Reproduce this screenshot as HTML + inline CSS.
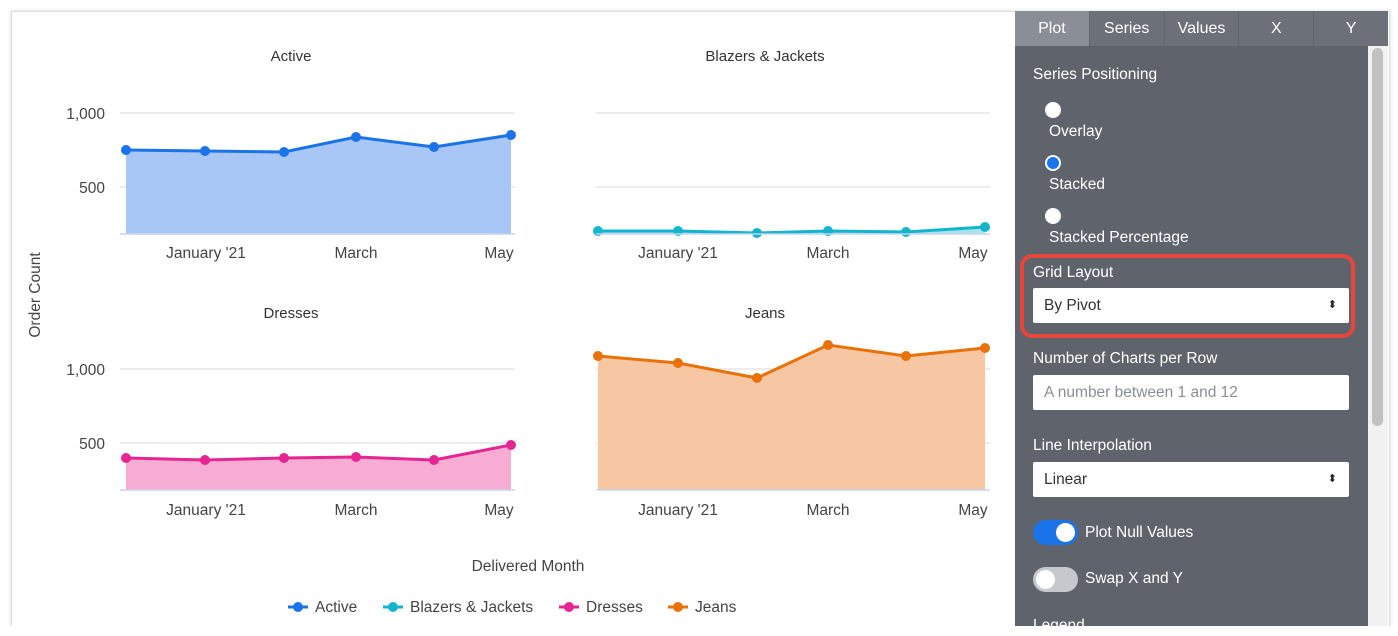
<!DOCTYPE html>
<html><head><style>
body{margin:0;width:1398px;height:636px;background:#fff;font-family:"Liberation Sans",sans-serif;overflow:hidden;position:relative}
.card{position:absolute;left:11px;top:11px;width:1377px;height:614px;border:1px solid #ddd;box-shadow:0 0 4px rgba(0,0,0,.15);background:#fff}
.panel{position:absolute;left:1015px;top:11px;width:353px;height:615px;background:#5f636b;color:#fff}
.tabs{position:absolute;left:1015px;top:11px;width:373px;display:flex;height:35px;background:#6c7079;color:#fff}
.tabs div{flex:1;text-align:center;line-height:35px;font-size:16px;border-right:1px solid #62666e}
.tabs div.on{background:#8a8e96}
.lbl{position:absolute;left:18px;font-size:15.5px}
.radio{position:absolute;left:30px;width:16px;height:16px;border-radius:50%;background:#fff}
.box{position:absolute;left:18px;width:316px;height:35px;background:#fff;border-radius:2px;color:#333;font-size:15.5px;line-height:35px;text-indent:11px}
.arr{position:absolute;right:12px;top:0;font-size:11px;color:#222}
.tog{position:absolute;left:18px;width:45px;height:25px;border-radius:13px}
.tog i{position:absolute;top:3px;width:19px;height:19px;border-radius:50%;background:#fff}
.sb{position:absolute;left:1368px;top:46px;width:20px;height:580px;background:#f1f1f1}
.sb i{position:absolute;left:4px;top:2px;width:11px;height:378px;border-radius:6px;background:#c1c1c1}
</style></head><body>
<div class="card"></div>
<svg style="position:absolute;left:0;top:0" width="1010" height="636" font-family="Liberation Sans,sans-serif">
<g stroke="#e6e6e6" stroke-width="1.5">
<line x1="120" y1="113" x2="515" y2="113"/><line x1="120" y1="187" x2="515" y2="187"/>
<line x1="596" y1="113" x2="990" y2="113"/><line x1="596" y1="187" x2="990" y2="187"/>
<line x1="120" y1="369" x2="515" y2="369"/><line x1="120" y1="443" x2="515" y2="443"/>
<line x1="596" y1="369" x2="990" y2="369"/><line x1="596" y1="443" x2="990" y2="443"/>
</g>
<polygon fill="#a8c7f6" points="126,234 126,150 205,151 284,152 356,137 434,147 511,135 511,234"/>
<polyline fill="none" stroke="#1a73e8" stroke-width="3" points="126,150 205,151 284,152 356,137 434,147 511,135"/>
<g fill="#1a73e8"><circle cx="126" cy="150" r="5"/><circle cx="205" cy="151" r="5"/><circle cx="284" cy="152" r="5"/><circle cx="356" cy="137" r="5"/><circle cx="434" cy="147" r="5"/><circle cx="511" cy="135" r="5"/></g>
<polygon fill="#a6e3ea" points="598,234 598,231 678,231 757,233 828,231 906,232 985,227 985,234"/>
<polyline fill="none" stroke="#12b5cb" stroke-width="3" points="598,231 678,231 757,233 828,231 906,232 985,227"/>
<g fill="#12b5cb"><circle cx="598" cy="231" r="5"/><circle cx="678" cy="231" r="5"/><circle cx="757" cy="233" r="5"/><circle cx="828" cy="231" r="5"/><circle cx="906" cy="232" r="5"/><circle cx="985" cy="227" r="5"/></g>
<polygon fill="#f7acd4" points="126,490 126,458 205,460 284,458 356,457 434,460 511,445 511,490"/>
<polyline fill="none" stroke="#e52592" stroke-width="3" points="126,458 205,460 284,458 356,457 434,460 511,445"/>
<g fill="#e52592"><circle cx="126" cy="458" r="5"/><circle cx="205" cy="460" r="5"/><circle cx="284" cy="458" r="5"/><circle cx="356" cy="457" r="5"/><circle cx="434" cy="460" r="5"/><circle cx="511" cy="445" r="5"/></g>
<polygon fill="#f7c6a2" points="598,490 598,356 678,363 757,378 828,345 906,356 985,348 985,490"/>
<polyline fill="none" stroke="#e8710a" stroke-width="3" points="598,356 678,363 757,378 828,345 906,356 985,348"/>
<g fill="#e8710a"><circle cx="598" cy="356" r="5"/><circle cx="678" cy="363" r="5"/><circle cx="757" cy="378" r="5"/><circle cx="828" cy="345" r="5"/><circle cx="906" cy="356" r="5"/><circle cx="985" cy="348" r="5"/></g>
<g stroke="#c8d4f0" stroke-width="1.5"><line x1="120" y1="234" x2="515" y2="234"/><line x1="596" y1="234" x2="990" y2="234"/><line x1="120" y1="490" x2="515" y2="490"/><line x1="596" y1="490" x2="990" y2="490"/></g>
<g font-size="15" fill="#333" text-anchor="middle">
<text x="291" y="61">Active</text><text x="765" y="61">Blazers &amp; Jackets</text>
<text x="291" y="318">Dresses</text><text x="765" y="318">Jeans</text>
</g>
<g font-size="15.5" fill="#444" text-anchor="end">
<text x="105" y="119">1,000</text><text x="105" y="193">500</text>
<text x="105" y="375">1,000</text><text x="105" y="449">500</text>
</g>
<g font-size="15.5" fill="#444" text-anchor="middle">
<text x="206" y="258">January '21</text><text x="356" y="258">March</text><text x="499" y="258">May</text>
<text x="678" y="258">January '21</text><text x="828" y="258">March</text><text x="973" y="258">May</text>
<text x="206" y="515">January '21</text><text x="356" y="515">March</text><text x="499" y="515">May</text>
<text x="678" y="515">January '21</text><text x="828" y="515">March</text><text x="973" y="515">May</text>
<text x="528" y="571">Delivered Month</text>
<text transform="translate(40,295) rotate(-90)">Order Count</text>
</g>
<g font-size="15.5" fill="#444">
<line x1="288" y1="607" x2="308" y2="607" stroke="#1a73e8" stroke-width="3"/><circle cx="298" cy="607" r="5" fill="#1a73e8"/><text x="315" y="612">Active</text>
<line x1="383" y1="607" x2="403" y2="607" stroke="#12b5cb" stroke-width="3"/><circle cx="393" cy="607" r="5" fill="#12b5cb"/><text x="410" y="612">Blazers &amp; Jackets</text>
<line x1="559" y1="607" x2="579" y2="607" stroke="#e52592" stroke-width="3"/><circle cx="569" cy="607" r="5" fill="#e52592"/><text x="586" y="612">Dresses</text>
<line x1="668" y1="607" x2="688" y2="607" stroke="#e8710a" stroke-width="3"/><circle cx="678" cy="607" r="5" fill="#e8710a"/><text x="695" y="612">Jeans</text>
</g>
</svg>
<div class="panel">
<div class="lbl" style="top:55px">Series Positioning</div>
<div class="radio" style="top:91px"></div><div class="lbl" style="top:112px;left:34px">Overlay</div>
<div class="radio" style="top:144px;background:#1a73e8;box-shadow:inset 0 0 0 2px #fff"></div><div class="lbl" style="top:165px;left:34px">Stacked</div>
<div class="radio" style="top:197px"></div><div class="lbl" style="top:218px;left:34px">Stacked Percentage</div>
<div style="position:absolute;left:5px;top:243px;width:335px;height:84px;border:4px solid #e8453c;border-radius:12px;box-sizing:border-box"></div>
<div class="lbl" style="top:253px">Grid Layout</div>
<div class="box" style="top:277px">By Pivot<span class="arr">⬍</span></div>
<div class="lbl" style="top:339px">Number of Charts per Row</div>
<div class="box" style="top:364px;color:#8a8f96">A number between 1 and 12</div>
<div class="lbl" style="top:426px">Line Interpolation</div>
<div class="box" style="top:451px">Linear<span class="arr">⬍</span></div>
<div class="tog" style="top:509px;background:#1a73e8"><i style="left:23px"></i></div><div class="lbl" style="top:513px;left:70px">Plot Null Values</div>
<div class="tog" style="top:556px;background:#c5c8cd"><i style="left:3px"></i></div><div class="lbl" style="top:559px;left:70px">Swap X and Y</div>
<div class="lbl" style="top:606px">Legend</div>
</div>
<div class="tabs"><div class="on">Plot</div><div>Series</div><div>Values</div><div>X</div><div style="border:none">Y</div></div>
<div class="sb"><i></i></div>
<div style="position:absolute;left:0;top:626px;width:1398px;height:10px;background:#fff"></div>
</body></html>
